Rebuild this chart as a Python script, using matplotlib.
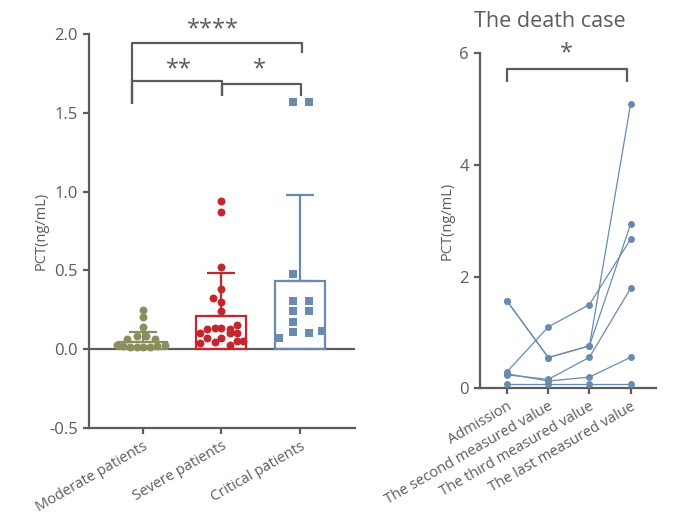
import matplotlib
matplotlib.use('Agg')
import matplotlib.pyplot as plt
import numpy as np

plt.rcParams['font.family'] = ['Open Sans', 'DejaVu Sans']

GREY = '#5c5c5c'
OLIVE = '#8b8d5e'
RED = '#c1272d'
BLUE = '#6a8baf'

# ---- left panel data ----
groups = ['Moderate patients', 'Severe patients', 'Critical patients']

moderate_vals = [0.248, 0.205, 0.138, 0.083, 0.083, 0.062, 0.062,
                 0.025, 0.02, 0.015, 0.015, 0.015, 0.015, 0.02, 0.025]
moderate_off = [0, 0, 0, -0.064, 0.05, -0.20, 0.156,
                -0.33, -0.25, -0.16, -0.076, 0.01, 0.09, 0.18, 0.28]

severe_vals = [0.94, 0.868, 0.52, 0.38, 0.325, 0.30, 0.24,
               0.104, 0.125, 0.135, 0.135, 0.125, 0.152,
               0.04, 0.072, 0.045, 0.072, 0.104, 0.10, 0.051, 0.051, 0.025]
severe_off = [0, 0, 0, 0, -0.10, 0, 0,
              -0.275, -0.18, -0.085, 0, 0.105, 0.2,
              -0.275, -0.18, -0.085, 0, 0.105, 0.2, 0.2, 0.28, 0.105]

critical_vals = [1.567, 1.567, 0.48, 0.305, 0.305, 0.24, 0.24,
                 0.17, 0.106, 0.10, 0.114, 0.068]
critical_off = [-0.085, 0.118, -0.085, -0.085, 0.118, -0.085, 0.118,
                -0.085, -0.085, 0.118, 0.28, -0.27]

bar_means = [0.045, 0.21, 0.43]
bar_upper = [0.11, 0.485, 0.98]

# ---- right panel data ----
timepoints = ['Admission', 'The second measured value',
              'The third measured value', 'The last measured value']
patients = [
    [1.56, 0.55, 0.76, 5.09],
    [1.56, 0.55, 0.76, 2.94],
    [0.30, 1.10, 1.50, 2.67],
    [0.24, 0.16, 0.555, 1.79],
    [0.26, 0.13, 0.20, 0.555],
    [0.07, 0.07, 0.07, 0.07],
]


def style_axes(ax):
    for side in ['top', 'right']:
        ax.spines[side].set_visible(False)
    for side in ['left', 'bottom']:
        ax.spines[side].set_color(GREY)
        ax.spines[side].set_linewidth(1.6)
    ax.tick_params(colors=GREY, width=1.6, length=4.5, labelsize=10.5,
                   labelcolor=GREY)
    ax.tick_params(axis='y', labelsize=12)


def bracket(ax, x0, x1, y, y0_leg, y1_leg):
    ax.plot([x0, x0, x1, x1], [y0_leg, y, y, y1_leg], color=GREY,
            lw=1.6, solid_capstyle='butt', clip_on=False)


fig = plt.figure(figsize=(6.74, 5.16), dpi=100)

# left panel
ax1 = fig.add_axes([0.132, 0.171, 0.395, 0.7625])
style_axes(ax1)
ax1.set_xlim(-0.68, 2.70)
ax1.set_ylim(-0.5, 2.0)
ax1.set_yticks([-0.5, 0.0, 0.5, 1.0, 1.5, 2.0])
ax1.set_yticklabels(['-0.5', '0.0', '0.5', '1.0', '1.5', '2.0'])
ax1.axhline(0, color=GREY, lw=1.6, zorder=1)

colors = [OLIVE, RED, BLUE]
for i, (m, up, c) in enumerate(zip(bar_means, bar_upper, colors)):
    ax1.bar(i, m, width=0.63, facecolor='none', edgecolor=c, lw=1.6, zorder=2)
    ax1.errorbar(i, m, yerr=[[0], [up - m]], color=c, lw=1.6, capsize=10,
                 capthick=1.6, zorder=2)

ax1.plot(0 + np.array(moderate_off), moderate_vals, 'o', color=OLIVE,
         ms=5.7, mew=0, zorder=3)
ax1.plot(1 + np.array(severe_off), severe_vals, 'o', color=RED,
         ms=5.7, mew=0, zorder=3)
ax1.plot(2 + np.array(critical_off), critical_vals, 's', color=BLUE,
         ms=5.2, mew=0, zorder=3)

ax1.set_xticks(range(3))
ax1.set_xticklabels(groups, rotation=30, ha='right', rotation_mode='anchor',
                    fontsize=10.5)
ax1.set_ylabel('PCT(ng/mL)', color=GREY, fontsize=10.5)
ax1.yaxis.set_label_coords(-0.152, 0.5)

# significance brackets
bracket(ax1, -0.13, 2.02, 1.942, 1.557, 1.882)
bracket(ax1, -0.13, 1.01, 1.703, 1.557, 1.609)
bracket(ax1, 1.01, 2.01, 1.686, 1.609, 1.609)
ax1.text(0.90, 2.03, '****', ha='center', va='center', fontsize=17, color=GREY)
ax1.text(0.46, 1.78, '**', ha='center', va='center', fontsize=17, color=GREY)
ax1.text(1.49, 1.78, '*', ha='center', va='center', fontsize=17, color=GREY)

# right panel
ax2 = fig.add_axes([0.712, 0.2475, 0.262, 0.649])
style_axes(ax2)
ax2.set_xlim(-0.664, 3.63)
ax2.set_ylim(0, 6)
ax2.set_yticks([0, 2, 4, 6])
x = np.arange(len(timepoints))
for p in patients:
    ax2.plot(x, p, '-o', color=BLUE, lw=0.9, ms=5, mew=0, clip_on=False,
             zorder=3)
ax2.set_xticks(x)
ax2.set_xticklabels(timepoints, rotation=30, ha='right',
                    rotation_mode='anchor', fontsize=10.5)
ax2.set_ylabel('PCT(ng/mL)', color=GREY, fontsize=10.5)
ax2.yaxis.set_label_coords(-0.145, 0.5)

bracket(ax2, 0, 2.905, 5.714, 5.49, 5.49)
ax2.text(1.445, 6.0, '*', ha='center', va='center', fontsize=17, color=GREY)

fig.text(0.816, 0.958, 'The death case', ha='center', va='center',
         fontsize=15.5, color=GREY)

fig.savefig('out.png', dpi=100)
